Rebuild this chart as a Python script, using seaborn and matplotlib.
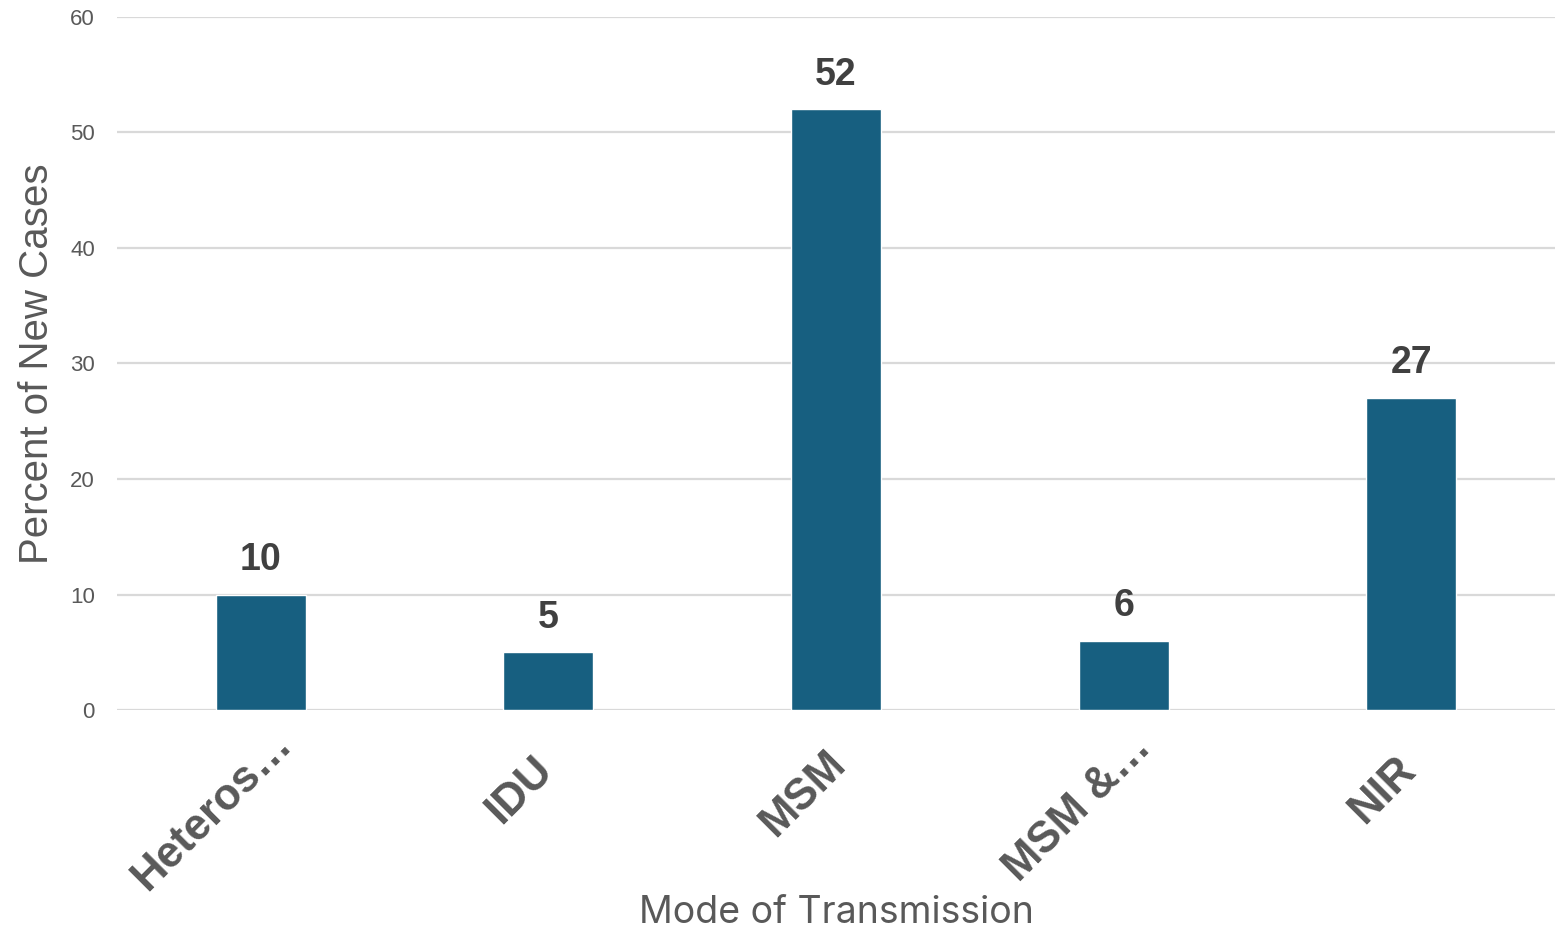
import matplotlib
matplotlib.use("Agg")
import matplotlib.pyplot as plt
import matplotlib.transforms as mtransforms
import seaborn as sns
import pandas as pd
import numpy as np

# Share of new cases by mode of transmission
categories = ["Heteros…", "IDU", "MSM", "MSM &…", "NIR"]
percent_new_cases = [10, 5, 52, 6, 27]
y_ticks = [0, 10, 20, 30, 40, 50, 60]

df = pd.DataFrame({"mode": categories, "percent": percent_new_cases})

sns.set_theme(style="white")
plt.rcParams["font.family"] = ["Liberation Sans", "DejaVu Sans"]

fig = plt.figure(figsize=(15.68, 9.33), dpi=100)
ax = fig.add_axes([0.0746, 0.239, 0.9171, 0.7428])

bar_color = "#175F80"
text_grey = "#595959"
sns.barplot(data=df, x="mode", y="percent", color=bar_color, width=0.313,
            saturation=1, ax=ax, zorder=3)

ax.set_ylim(0, 60)
ax.set_xlim(-0.5, len(categories) - 0.5)
ax.set_yticks(y_ticks)
ax.yaxis.grid(True, color="#D9D9D9", linewidth=1.6, zorder=0)
ax.set_axisbelow(True)
for s in ax.spines.values():
    s.set_visible(False)
ax.tick_params(axis="both", length=0)
ax.tick_params(axis="y", labelsize=16, labelcolor=text_grey, pad=16)

# Category labels: slanted 45 degrees, longer labels sit further along their slant
ax.set_xticks(range(len(categories)))
ax.set_xticklabels([])
renderer = fig.canvas.get_renderer()
base = mtransforms.blended_transform_factory(ax.transData, ax.transAxes)
diag = 1 / np.sqrt(2)
for i, name in enumerate(categories):
    t = ax.text(i, 0, name, transform=base, ha="right", va="center",
                fontsize=31.5, fontweight="bold", color=text_grey,
                rotation_mode="anchor", clip_on=False)
    w = t.get_window_extent(renderer).width
    shift = 0.28 * w * diag
    t.set_transform(mtransforms.offset_copy(base, fig, x=-16.8 + shift,
                                            y=-68.3 + shift, units="dots"))
    t.set_rotation(45)

# Value labels above each bar
for container in ax.containers:
    ax.bar_label(container, labels=[f"{v:g}" for v in percent_new_cases],
                 padding=12, fontsize=27, fontweight="bold", color="#404040")

ax.set_ylabel("Percent of New Cases", fontsize=29, color=text_grey, labelpad=10)
ax.set_xlabel("Mode of Transmission", fontsize=27, color=text_grey,
              family=["Inter", "DejaVu Sans"])
ax.xaxis.label.set_va("center")
ax.xaxis.set_label_coords(0.5, -0.293)

fig.savefig("out.png", dpi=100, facecolor="white")
